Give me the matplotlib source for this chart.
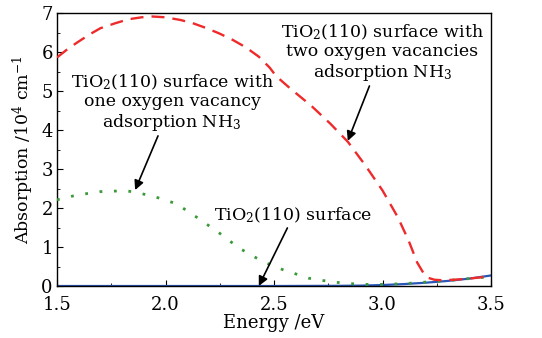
import matplotlib
matplotlib.use("Agg")
import matplotlib.pyplot as plt
from matplotlib.ticker import MultipleLocator

plt.rcParams['font.family'] = ['DejaVu Serif']
plt.rcParams['mathtext.fontset'] = 'dejavuserif'

# Two oxygen vacancies + NH3 (red dashed)
red_x = [1.50, 1.55, 1.60, 1.65, 1.70, 1.77, 1.83, 1.89, 1.94, 2.00, 2.07, 2.13, 2.19, 2.25, 2.31, 2.37, 2.43, 2.48, 2.51, 2.58,
         2.67, 2.76, 2.84, 2.92, 3.00, 3.07, 3.12, 3.16, 3.19, 3.21, 3.24, 3.27, 3.33, 3.40, 3.45, 3.50]
red_y = [5.86, 6.08, 6.27, 6.45, 6.61, 6.74, 6.84, 6.89, 6.91, 6.89, 6.82, 6.73, 6.61, 6.47, 6.31, 6.12, 5.88, 5.60, 5.38, 5.04,
         4.63, 4.16, 3.70, 3.10, 2.45, 1.77, 1.17, 0.60, 0.32, 0.21, 0.16, 0.15, 0.16, 0.19, 0.22, 0.27]

# One oxygen vacancy + NH3 (green dotted)
green_x = [1.50, 1.59, 1.70, 1.80, 1.85, 1.95, 2.05, 2.15, 2.25, 2.34, 2.45, 2.54, 2.66, 2.76, 2.85, 2.93, 3.00, 3.10, 3.20, 3.30, 3.40, 3.50]
green_y = [2.21, 2.33, 2.42, 2.44, 2.42, 2.29, 2.11, 1.74, 1.35, 0.97, 0.62, 0.42, 0.20, 0.11, 0.06, 0.04, 0.04, 0.06, 0.10, 0.14, 0.19, 0.24]

# Clean surface (blue solid)
blue_x = [1.50, 2.00, 2.50, 2.80, 2.90, 3.00, 3.10, 3.20, 3.30, 3.40, 3.50]
blue_y = [0.00, 0.00, 0.00, 0.005, 0.01, 0.025, 0.05, 0.085, 0.13, 0.19, 0.27]

fig = plt.figure(figsize=(5.42, 3.38), dpi=100)
ax = fig.add_axes([57/542, 1-286/338, (491-57)/542, (286-13)/338])

ax.plot(blue_x, blue_y, color='#2a56b8', lw=1.6, zorder=2)
ax.plot(green_x, green_y, color='#3a9a3a', lw=2.0, linestyle=(0, (1.0, 4.2)), zorder=3)
ax.plot(red_x, red_y, color='#ee2a2a', lw=1.7, linestyle=(0, (5.5, 3.4)), zorder=4)

ax.set_xlim(1.5, 3.5)
ax.set_ylim(0, 7)
ax.xaxis.set_major_locator(MultipleLocator(0.5))
ax.xaxis.set_minor_locator(MultipleLocator(0.25))
ax.yaxis.set_major_locator(MultipleLocator(1))
ax.yaxis.set_minor_locator(MultipleLocator(0.5))
ax.set_xticks([1.5, 2.0, 2.5, 3.0, 3.5])
ax.set_xticklabels(['1.5', '2.0', '2.5', '3.0', '3.5'])
ax.tick_params(which='both', direction='in', top=False, right=False, labelsize=13)
ax.tick_params(which='major', length=4)
ax.tick_params(which='minor', length=2.5)
ax.tick_params(axis='x', pad=7)
ax.tick_params(axis='y', pad=3)
for s in ax.spines.values():
    s.set_linewidth(1.0)

ax.set_xlabel('Energy /eV', fontsize=13, labelpad=0)
ax.set_ylabel(r'Absorption /10$^4$ cm$^{-1}$', fontsize=12.5, labelpad=4)

akw = dict(arrowstyle='-|>', color='black', lw=1.2, mutation_scale=14, shrinkA=0, shrinkB=0)
ax.annotate('TiO$_2$(110) surface with\ntwo oxygen vacancies\nadsorption NH$_3$',
            xy=(2.84, 3.72), xytext=(3.00, 5.2), ha='center', va='bottom',
            fontsize=12.5, linespacing=1.12, arrowprops=akw)
ax.annotate('TiO$_2$(110) surface with\none oxygen vacancy\nadsorption NH$_3$',
            xy=(1.86, 2.46), xytext=(2.03, 3.92), ha='center', va='bottom',
            fontsize=12.5, linespacing=1.12, arrowprops=akw)
ax.annotate('TiO$_2$(110) surface',
            xy=(2.43, 0.0), xytext=(2.59, 1.56), ha='center', va='bottom',
            fontsize=12.5, arrowprops=akw)

fig.savefig('out.png', dpi=100)
